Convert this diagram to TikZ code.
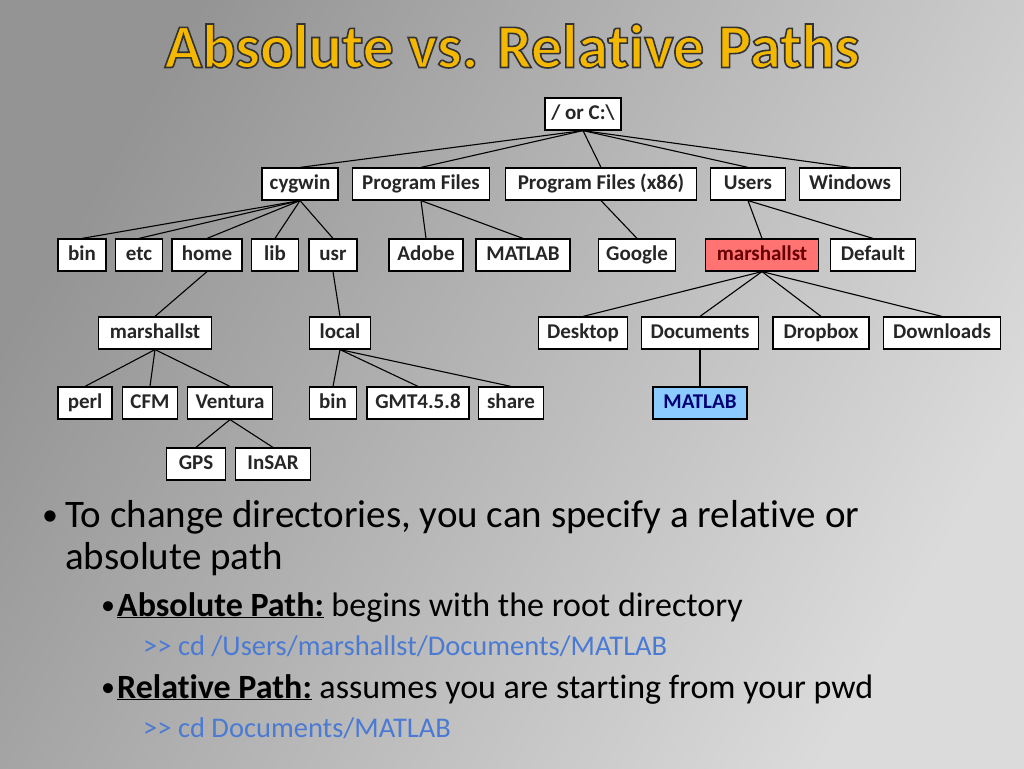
\documentclass[tikz,border=0pt]{standalone}
\usepackage{fontspec}
\setmainfont[Ligatures=NoCommon]{Carlito}
\definecolor{ttl}{HTML}{F5B800}
\definecolor{code}{HTML}{4A7AD4}
\begin{document}
\begin{tikzpicture}[x=1pt,y=-1pt,
 bx/.style={draw=black,line width=1.2pt,fill=white,minimum height=32pt,inner xsep=4pt,text height=14pt,text depth=4pt,font=\fontsize{21}{22}\selectfont\bfseries,text=black!85},
 ed/.style={line width=1.1pt}]
\shade[left color=black!42,right color=black!14,shading angle=60] (0,0) rectangle (1024,768);
\useasboundingbox (0,0) rectangle (1024,768);
\node[font=\fontsize{62}{64}\selectfont\bfseries,text=ttl] (title) at (512,46) {\special{pdf:literal direct 2 Tr 1.6 w 0.2 0.2 0.2 RG}Absolute vs. Relative Paths\special{pdf:literal direct 0 Tr}};
% nodes
\node[bx,minimum width=76pt] (root) at (583,114) {/ or C:\textbackslash};
\node[bx,minimum width=76pt] (cyg) at (300,184) {cygwin};
\node[bx,minimum width=137pt] (pf) at (421,184) {Program Files};
\node[bx,minimum width=191pt] (pf86) at (601,184) {Program Files (x86)};
\node[bx,minimum width=75pt] (users) at (748,184) {Users};
\node[bx,minimum width=101pt] (win) at (850,184) {Windows};
\node[bx,minimum width=48pt] (bin) at (82,255) {bin};
\node[bx,minimum width=47pt] (etc) at (139,255) {etc};
\node[bx,minimum width=70pt] (home) at (207,255) {home};
\node[bx,minimum width=47pt] (lib) at (275,255) {lib};
\node[bx,minimum width=48pt] (usr) at (333,255) {usr};
\node[bx,minimum width=74pt] (adobe) at (426,255) {Adobe};
\node[bx,minimum width=94pt] (mat1) at (523,255) {MATLAB};
\node[bx,minimum width=77pt] (goog) at (637,255) {Google};
\node[bx,minimum width=113pt,fill=red!55!white,text=red!40!black] (msu) at (762,255) {marshallst};
\node[bx,minimum width=85pt] (def) at (873,255) {Default};
\node[bx,minimum width=113pt] (msh) at (155,333) {marshallst};
\node[bx,minimum width=61pt] (local) at (340,333) {local};
\node[bx,minimum width=89pt] (desk) at (583,333) {Desktop};
\node[bx,minimum width=117pt] (docs) at (700,333) {Documents};
\node[bx,minimum width=96pt] (drop) at (821,333) {Dropbox};
\node[bx,minimum width=117pt] (down) at (942,333) {Downloads};
\node[bx,minimum width=54pt] (perl) at (85,403) {perl};
\node[bx,minimum width=55pt] (cfm) at (150,403) {CFM};
\node[bx,minimum width=85pt] (vent) at (230,403) {Ventura};
\node[bx,minimum width=47pt] (bin2) at (333,403) {bin};
\node[bx,minimum width=102pt] (gmt) at (418,403) {GMT4.5.8};
\node[bx,minimum width=65pt] (share) at (511,403) {share};
\node[bx,minimum width=94pt,fill=blue!45!cyan!45!white,text=blue!45!black] (mat2) at (700,403) {MATLAB};
\node[bx,minimum width=59pt] (gps) at (196,464) {GPS};
\node[bx,minimum width=75pt] (insar) at (273,464) {InSAR};
% edges
\foreach \a/\b in {root/cyg,root/pf,root/pf86,root/users,root/win,
 cyg/bin,cyg/etc,cyg/home,cyg/lib,cyg/usr,pf/adobe,pf/mat1,pf86/goog,users/msu,users/def,
 home/msh,usr/local,msu/desk,msu/docs,msu/drop,msu/down,
 msh/perl,msh/cfm,msh/vent,local/bin2,local/gmt,local/share,docs/mat2,vent/gps,vent/insar}
 \draw[ed] (\a.south) -- (\b.north);
% text
\begin{scope}[every node/.style={anchor=base west,inner sep=0pt}]
\node[font=\fontsize{32}{40}\selectfont] (b1) at (42,525) {•};
\node[font=\fontsize{39}{40}\selectfont] (t1) at (65,527) {To change directories, you can specify a relative or};
\node[font=\fontsize{39}{40}\selectfont] (t2) at (65,569) {absolute path};
\node[font=\fontsize{28}{36}\selectfont] (b2) at (101,614) {•};
\node[font=\fontsize{34}{36}\selectfont] (t3) at (117,616) {\textbf{\underline{Absolute Path:}} begins with the root directory};
\node[font=\fontsize{28.5}{30}\selectfont,text=code] (c1) at (143,655) {{>}{>} cd /Users/marshallst/Documents/MATLAB};
\node[font=\fontsize{28}{36}\selectfont] (b3) at (101,696) {•};
\node[font=\fontsize{34}{36}\selectfont] (t4) at (117,698) {\textbf{\underline{Relative Path:}} assumes you are starting from your pwd};
\node[font=\fontsize{28.5}{30}\selectfont,text=code] (c2) at (143,737) {{>}{>} cd Documents/MATLAB};
\end{scope}
\end{tikzpicture}
\end{document}
